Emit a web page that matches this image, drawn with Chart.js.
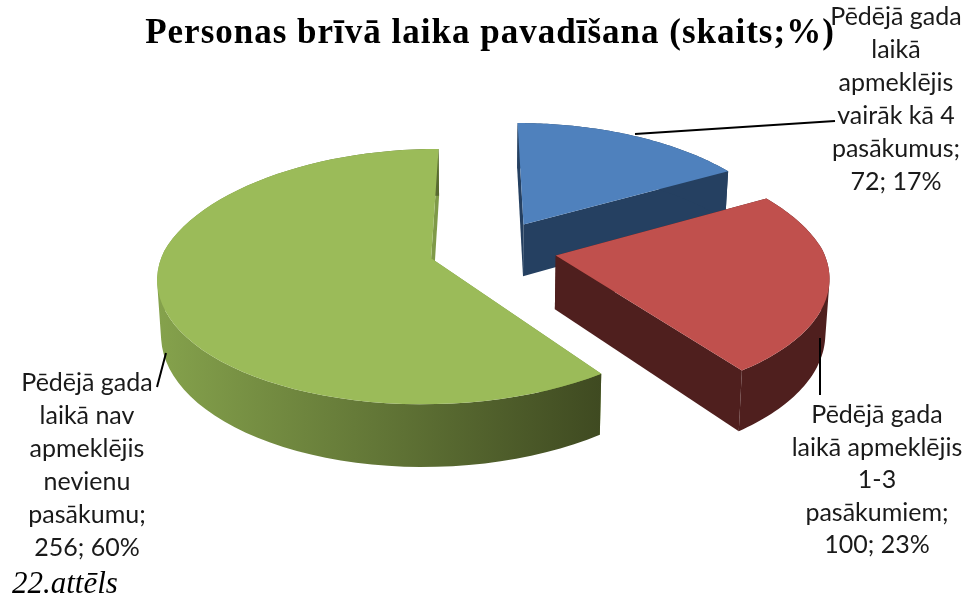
<!DOCTYPE html>
<html>
<head>
<meta charset="utf-8">
<title>22.attēls</title>
<script src="https://cdn.jsdelivr.net/npm/chart.js@4/dist/chart.umd.min.js"></script>
<style>
  html, body { margin: 0; padding: 0; background: #fff; }
  #wrap { position: relative; width: 966px; height: 598px; }
</style>
</head>
<body>
<div id="wrap"><canvas id="chart"></canvas></div>
<script>
'use strict';

const TITLE = 'Personas brīvā laika pavadīšana (skaits;%)';
const CAPTION = '22.attēls';
const CATEGORIES = [
  ['Pēdējā gada', 'laikā', 'apmeklējis', 'vairāk kā 4', 'pasākumus;'],
  ['Pēdējā gada', 'laikā apmeklējis', '1-3', 'pasākumiem;'],
  ['Pēdējā gada', 'laikā nav', 'apmeklējis', 'nevienu', 'pasākumu;']
];
const COUNTS = [72, 100, 256];

const TOP_COLORS = ['#4f81bd', '#c0504d', '#9bbb59'];
const SIDE_COLORS = ['#254061', '#4f1f1e', '#7f9a48'];
const GREEN_WALL = ['#85a24c', '#3f4a21'];
const DRAW_ORDER = [0, 2, 1];

// where the label blocks sit: centre x, y of first line, line step
const LABEL_BOXES = [
  { x: 896, y: 17, step: 33 },
  { x: 877, y: 415, step: 32.5 },
  { x: 87, y: 383, step: 33 }
];
const LEADERS = [
  [[635, 134], [835, 121]],
  [[820, 338], [820, 395]],
  [[166, 353], [157, 387]]
];

// perspective camera for the tilted pie
const CAM = { vx: 482, vy: -608, a: 6000, b: 1870, d: 7, x0: 0.04, h: 372, taper: 0.012, farX: 1.2 };

function project(X, Y) {
  const w = CAM.d - Y;
  // the far half narrows a little faster than the depth alone gives
  const wx = Y < 0 ? CAM.d - CAM.farX * Y : w;
  return { x: CAM.vx + CAM.b * (X + CAM.x0) / wx, y: CAM.vy + CAM.a / w, w };
}

function drop(p) {
  return { x: CAM.vx + (p.x - CAM.vx) * (1 - CAM.taper), y: p.y + CAM.h / p.w };
}

// outline of one arc element in screen space: apex, then the rim
function sliceOutline(el) {
  const R = el.outerRadius;
  const mid = (el.startAngle + el.endAngle) / 2;
  const shift = (el.options.offset / 4) / R;
  const ox = Math.cos(mid) * shift;
  const oy = Math.sin(mid) * shift;
  const steps = 72;
  const rim = [];
  for (let i = 0; i <= steps; i++) {
    const a = el.startAngle + (el.endAngle - el.startAngle) * i / steps;
    rim.push(project(ox + Math.cos(a), oy + Math.sin(a)));
  }
  return { apex: project(ox, oy), rim };
}

function tracePoly(ctx, pts) {
  pts.forEach((p, i) => { if (i) { ctx.lineTo(p.x, p.y); } else { ctx.moveTo(p.x, p.y); } });
  ctx.closePath();
}

function fillPoly(ctx, pts, fill) {
  ctx.beginPath();
  tracePoly(ctx, pts);
  ctx.fillStyle = fill;
  ctx.fill();
}

function signedArea(q) {
  let s = 0;
  q.forEach((p, i) => {
    const n = q[(i + 1) % q.length];
    s += p.x * n.y - n.x * p.y;
  });
  return s;
}

// one path of same-wound quads, so the wall keeps its silhouette where the rim turns
function fillWall(ctx, rim, fill) {
  ctx.beginPath();
  for (let k = 0; k + 1 < rim.length; k++) {
    const q = [rim[k], rim[k + 1], drop(rim[k + 1]), drop(rim[k])];
    tracePoly(ctx, signedArea(q) < 0 ? q.reverse() : q);
  }
  ctx.fillStyle = fill;
  ctx.fill();
}

const pie3d = {
  id: 'pie3d',
  beforeDraw(chart) {
    // the title is set a little open in the original
    chart.ctx.letterSpacing = '1px';
  },
  beforeDatasetsDraw(chart) {
    const ctx = chart.ctx;
    ctx.letterSpacing = '0px';
    const arcs = chart.getDatasetMeta(0).data;
    DRAW_ORDER.forEach(i => {
      const { apex, rim } = sliceOutline(arcs[i]);
      const side = SIDE_COLORS[i];
      let wall = side;
      if (i === 2) {
        const xs = rim.map(p => p.x);
        wall = ctx.createLinearGradient(Math.min(...xs), 0, Math.max(...xs), 0);
        wall.addColorStop(0, GREEN_WALL[0]);
        wall.addColorStop(1, GREEN_WALL[1]);
      }
      fillPoly(ctx, [apex, rim[0], drop(rim[0]), drop(apex)], side);
      const last = rim[rim.length - 1];
      fillPoly(ctx, [apex, last, drop(last), drop(apex)], side);
      fillWall(ctx, rim, wall);
      fillPoly(ctx, [apex].concat(rim), TOP_COLORS[i]);
    });
    return false;
  },
  afterDraw(chart) {
    const ctx = chart.ctx;
    const total = COUNTS.reduce((s, v) => s + v, 0);
    ctx.save();
    ctx.strokeStyle = '#000';
    ctx.lineWidth = 2;
    LEADERS.forEach(l => {
      ctx.beginPath();
      ctx.moveTo(l[0][0], l[0][1]);
      ctx.lineTo(l[1][0], l[1][1]);
      ctx.stroke();
    });
    ctx.fillStyle = '#1a1a1a';
    ctx.font = '25px Lato';
    ctx.textAlign = 'center';
    ctx.textBaseline = 'middle';
    CATEGORIES.forEach((lines, i) => {
      const box = LABEL_BOXES[i];
      const pct = Math.round(COUNTS[i] / total * 100);
      lines.concat(COUNTS[i] + '; ' + pct + '%').forEach((line, n) => {
        ctx.fillText(line, box.x, box.y + n * box.step);
      });
    });
    ctx.fillStyle = '#000';
    ctx.font = 'italic 31px "Liberation Serif"';
    ctx.textAlign = 'left';
    ctx.fillText(CAPTION, 12, 585);
    ctx.restore();
  }
};

new Chart(document.getElementById('chart'), {
  type: 'pie',
  data: {
    labels: CATEGORIES.map(l => l.join(' ')),
    datasets: [{ data: COUNTS, backgroundColor: TOP_COLORS, borderWidth: 0, offset: 176 }]
  },
  options: {
    responsive: true,
    maintainAspectRatio: false,
    animation: false,
    layout: { padding: { left: 14 } },
    plugins: {
      legend: { display: false },
      tooltip: { enabled: false },
      title: {
        display: true,
        text: TITLE,
        color: '#000',
        font: { family: '"Liberation Serif"', size: 35, weight: 'bold' },
        padding: { top: 13, bottom: 0 }
      }
    }
  },
  plugins: [pie3d]
});
</script>
</body>
</html>
